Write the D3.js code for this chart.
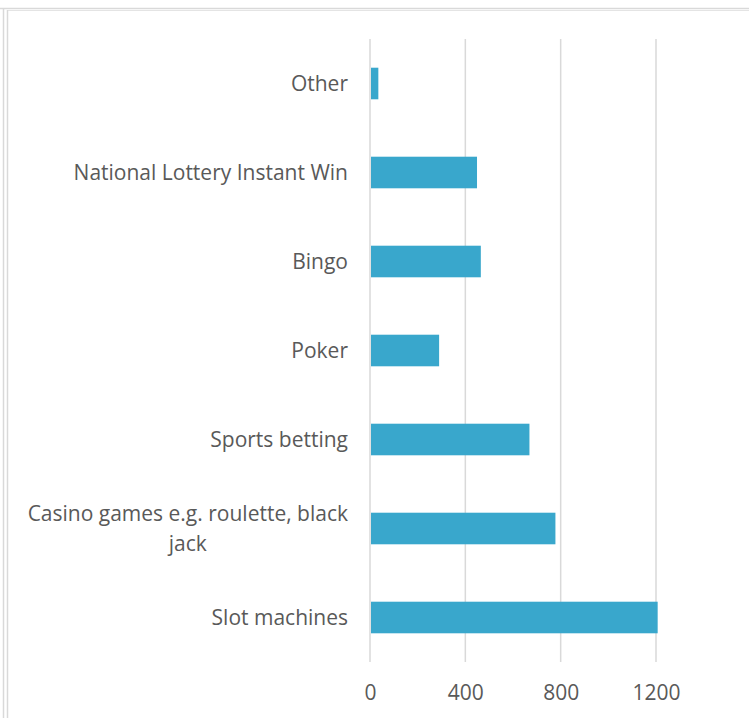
<!DOCTYPE html>
<html><head><meta charset="utf-8">
<script src="https://cdn.jsdelivr.net/npm/d3@7"></script>
<style>body{margin:0;background:#fff}svg{display:block}</style>
</head><body>
<svg id="c" width="749" height="718"></svg>
<script>
const categories = ["Other","National Lottery Instant Win","Bingo","Poker","Sports betting","Casino games e.g. roulette, black jack","Slot machines"];
const labelLines = [["Other"],["National Lottery Instant Win"],["Bingo"],["Poker"],["Sports betting"],["Casino games e.g. roulette, black","jack"],["Slot machines"]];
const values = [35, 449, 465, 290, 669, 778, 1207];
const tickValues = [0, 400, 800, 1200];

const svg = d3.select("#c");
const font = "'Open Sans', sans-serif";
const fs = 21;

// frame
svg.append("line").attr("x1",0).attr("x2",749).attr("y1",8.5).attr("y2",8.5).attr("stroke","#d9d9d9").attr("stroke-width",1.5);
svg.append("line").attr("x1",7).attr("x2",749).attr("y1",10.5).attr("y2",10.5).attr("stroke","#e4e4e4").attr("stroke-width",1);
svg.append("line").attr("x1",3.5).attr("x2",3.5).attr("y1",8).attr("y2",718).attr("stroke","#d9d9d9").attr("stroke-width",1.5);
svg.append("line").attr("x1",7.5).attr("x2",7.5).attr("y1",10).attr("y2",718).attr("stroke","#d9d9d9").attr("stroke-width",1.5);

const x = d3.scaleLinear().domain([0,1200]).range([370,656]);
const y = d3.scaleBand().domain(categories).range([39,662]).paddingInner(0.645).paddingOuter(0.3225);

// gridlines
svg.append("g").selectAll("line").data(tickValues).join("line")
  .attr("x1",d=>x(d)).attr("x2",d=>x(d)).attr("y1",39).attr("y2",662)
  .attr("stroke","#d9d9d9").attr("stroke-width",1.5);

// bars
svg.append("g").selectAll("rect").data(values).join("rect")
  .attr("x",x(0)+1).attr("y",(d,i)=>y(categories[i]))
  .attr("width",d=>x(d)-x(0)-1).attr("height",y.bandwidth())
  .attr("fill","#39a7cc");

// x axis labels
const xAxis = d3.axisBottom(x).tickValues(tickValues).tickFormat(d3.format("d")).tickSize(0).tickPadding(0);
const gx = svg.append("g").attr("transform","translate(0,693)").call(xAxis);
gx.select(".domain").remove();
gx.selectAll("text").attr("font-family",font).attr("font-size",fs).attr("fill","#595959").attr("y",0).attr("dy","0.35em");

// category labels
const lab = svg.append("g");
labelLines.forEach((lines,i)=>{
  const cy = y(categories[i]) + y.bandwidth()/2;
  const n = lines.length;
  const lh = 30;
  const t = lab.append("text").attr("font-family",font).attr("font-size",fs).attr("fill","#595959")
    .attr("text-anchor", n>1 ? "middle" : "end");
  const spans = lines.map((l,j)=> t.append("tspan").attr("x", 348)
      .attr("y", cy + (j - (n-1)/2)*lh).attr("dy","0.35em").text(l));
  if (n>1) {
    const w = d3.max(spans, s=>s.node().getComputedTextLength());
    spans.forEach(s=>s.attr("x", 348 - w/2));
  }
});
</script>
</body></html>
